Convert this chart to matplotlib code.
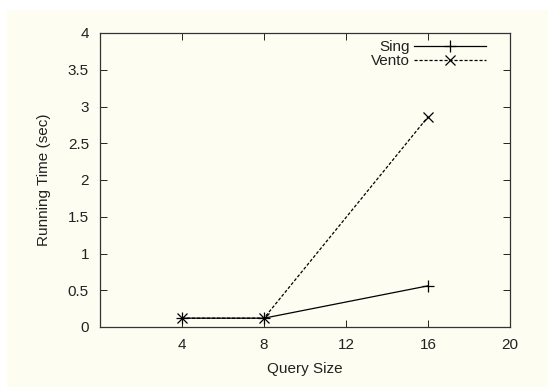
import matplotlib.pyplot as plt
from matplotlib.patches import Rectangle

# data
query_size = [4, 8, 16]
sing_time = [0.12, 0.12, 0.56]
vento_time = [0.12, 0.12, 2.86]
x_ticks = [4, 8, 12, 16, 20]
y_ticks = [0, 0.5, 1, 1.5, 2, 2.5, 3, 3.5, 4]
y_tick_labels = ['0', '0.5', '1', '1.5', '2', '2.5', '3', '3.5', '4']

plt.rcParams['font.family'] = ['Liberation Sans', 'DejaVu Sans']
plt.rcParams['font.size'] = 11

cream = '#fdfdf2'
fig = plt.figure(figsize=(5.48, 3.87), dpi=100)
fig.patch.set_facecolor('white')
# cream panel with a thin white margin on the top/left
fig.patches.append(Rectangle((7 / 548, 0), 1, 1 - 10 / 387, transform=fig.transFigure,
                             facecolor=cream, edgecolor='none', zorder=-10))

ax = fig.add_axes([100 / 548, 1 - 327 / 387, 410 / 548, 294 / 387])
ax.set_facecolor(cream)

ax.plot(query_size, sing_time, color='black', lw=0.9, marker='+', ms=9, mew=0.9,
        label='Sing')
ax.plot(query_size, vento_time, color='black', lw=0.9, ls=(0, (2.5, 1.5)), marker='x',
        ms=7, mew=0.9, label='Vento')

ax.set_xlim(0, 20)
ax.set_ylim(0, 4)
ax.set_xticks(x_ticks)
ax.set_yticks(y_ticks)
ax.set_yticklabels(y_tick_labels)
ax.tick_params(direction='in', length=5, width=0.7, top=True, right=True,
               colors='#222222', labelcolor='#222222', pad=8)
for side in ax.spines.values():
    side.set_color('#333333')
    side.set_linewidth(0.9)

ax.set_xlabel('Query Size', color='#222222', labelpad=7)
ax.set_ylabel('Running Time (sec)', color='#222222', labelpad=12)

leg = ax.legend(loc='upper right', bbox_to_anchor=(0.968, 1.012), frameon=False,
                markerfirst=False, numpoints=1, handlelength=4.7, labelspacing=0.0,
                borderaxespad=0.3, handletextpad=0.3)
for t in leg.get_texts():
    t.set_color('#222222')

fig.savefig('out.png', dpi=100, facecolor=fig.get_facecolor())
